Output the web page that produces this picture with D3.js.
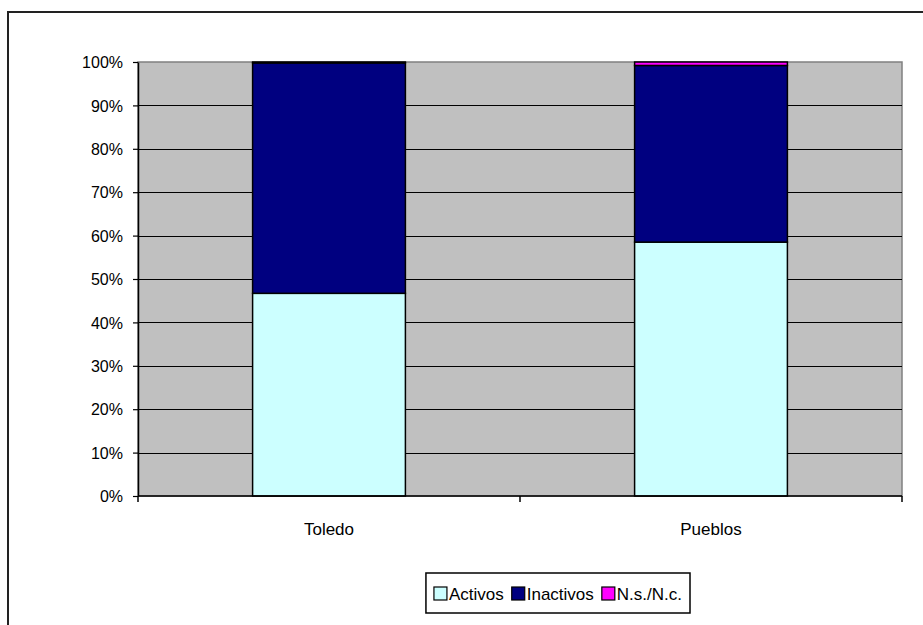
<!DOCTYPE html>
<html><head><meta charset="utf-8">
<script src="https://cdn.jsdelivr.net/npm/d3@7"></script>
<style>body{margin:0;background:#fff}svg{display:block}text{font-family:"Liberation Sans",Arial,sans-serif;fill:#000}</style>
</head><body><svg id="c" width="923" height="625"></svg>
<script>
const categories = ["Toledo", "Pueblos"];
const seriesNames = ["Activos", "Inactivos", "N.s./N.c."];
const activos = [46.7, 58.5];
const inactivos = [53.1, 40.7];
const nsnc = [0.2, 0.8];
const yTicks = [0,10,20,30,40,50,60,70,80,90,100];
const colors = ["#CCFFFF", "#000080", "#FF00FF"];

const svg = d3.select("#c");
const L=138, R=902, T=62, B=496;
svg.append("path").attr("d","M8,625V12H923").attr("fill","none").attr("stroke","#222").attr("stroke-width",2);

const x = d3.scaleBand().domain(categories).range([L,R]).paddingInner(0).paddingOuter(0);
const y = d3.scaleLinear().domain([0,100]).range([B,T]);

svg.append("rect").attr("x",L).attr("y",T).attr("width",R-L).attr("height",B-T).attr("fill","#C0C0C0").attr("stroke","#808080").attr("stroke-width",1.5);
svg.append("g").selectAll("line").data(yTicks.slice(1,-1)).join("line")
  .attr("x1",L).attr("x2",R).attr("y1",d=>Math.round(y(d))+0.5).attr("y2",d=>Math.round(y(d))+0.5)
  .attr("stroke","#000").attr("stroke-width",1);

const data = categories.map((c,i)=>({cat:c, Activos:activos[i], Inactivos:inactivos[i], "N.s./N.c.":nsnc[i]}));
const stack = d3.stack().keys(seriesNames)(data);
const bw = x.bandwidth()*0.4;
svg.append("g").selectAll("g").data(stack).join("g").attr("fill",(d,i)=>colors[i])
  .selectAll("rect").data(d=>d).join("rect")
  .attr("x",d=>x(d.data.cat)+x.bandwidth()/2-bw/2).attr("width",bw)
  .attr("y",d=>y(d[1])).attr("height",d=>y(d[0])-y(d[1]))
  .attr("stroke","#000").attr("stroke-width",1.5);

const ya = svg.append("g").attr("transform",`translate(${L},0)`)
  .call(d3.axisLeft(y).tickValues(yTicks).tickFormat(d=>d+"%").tickSize(5).tickSizeOuter(0));
ya.attr("font-family",null).attr("font-size",null);
ya.select(".domain").attr("stroke","#000").attr("stroke-width",1.5);
ya.selectAll(".tick line").attr("stroke","#000").attr("stroke-width",1.2);
ya.selectAll("text").attr("font-size",16).attr("x",-15).attr("dy","0.35em");

const xa = svg.append("g").attr("transform",`translate(0,${B})`);
xa.append("line").attr("x1",L).attr("x2",R).attr("stroke","#000").attr("stroke-width",1.5);
const bounds = [L].concat(categories.map(c=>x(c)+x.bandwidth()));
xa.selectAll(".bt").data(bounds).join("line").attr("class","bt")
  .attr("x1",d=>d).attr("x2",d=>d).attr("y1",0).attr("y2",6).attr("stroke","#000").attr("stroke-width",1.5);
xa.selectAll("text").data(categories).join("text")
  .attr("x",d=>x(d)+x.bandwidth()/2).attr("y",39).attr("text-anchor","middle").attr("font-size",17).text(d=>d);

// legend, right edge anchored
const lg = svg.append("g");
const box = lg.append("rect").attr("y",573).attr("height",40).attr("fill","#fff").attr("stroke","#000").attr("stroke-width",1.5);
const items = lg.append("g");
let cx = 0;
const gap = 8;
seriesNames.forEach((s,i)=>{
  items.append("rect").attr("x",cx).attr("y",587).attr("width",13).attr("height",13).attr("fill",colors[i]).attr("stroke","#000").attr("stroke-width",1.2);
  const t = items.append("text").attr("x",cx+15).attr("y",600).attr("font-size",17).text(s);
  cx += 15 + t.node().getComputedTextLength() + gap;
});
const total = cx - gap;
const right = 690, pad = 8;
const left = right - pad - total - pad;
box.attr("x",left).attr("width",right-left);
items.attr("transform",`translate(${left+pad},0)`);
</script></body></html>
